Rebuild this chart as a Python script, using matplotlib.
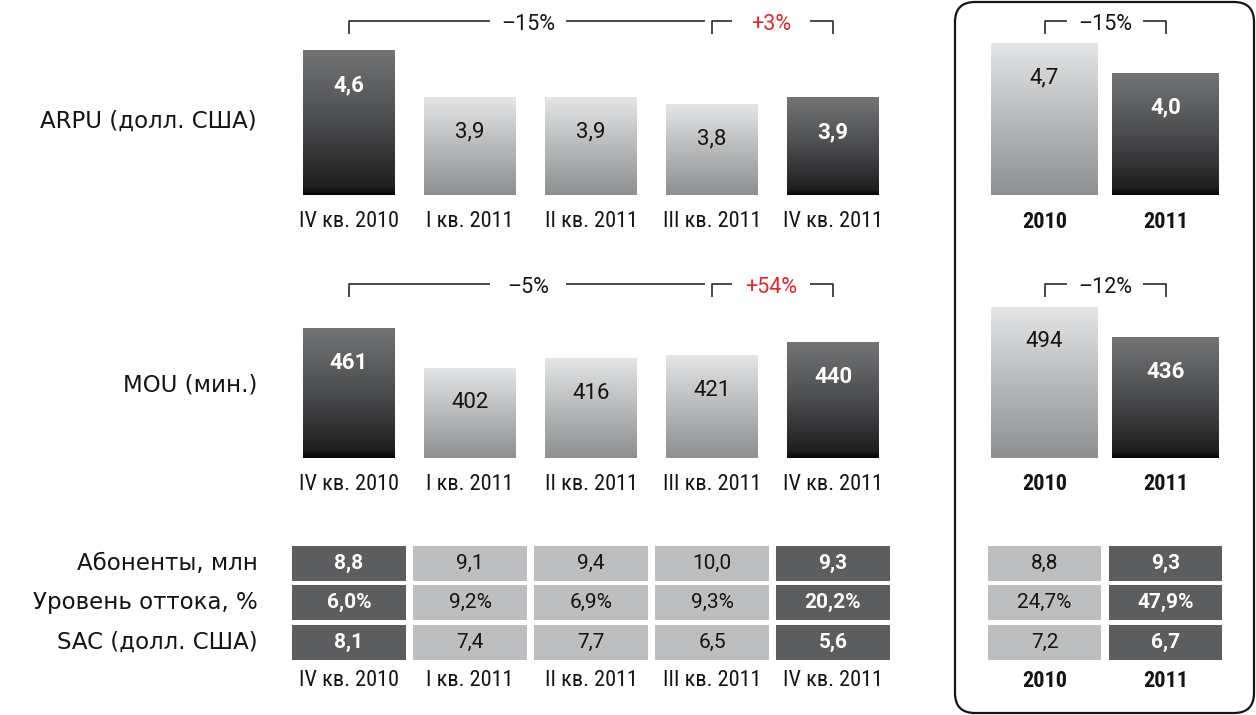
import numpy as np
import matplotlib
matplotlib.use('Agg')
import matplotlib.pyplot as plt
import matplotlib.transforms as mtransforms
from matplotlib import font_manager
from matplotlib.colors import LinearSegmentedColormap
from matplotlib.patches import FancyBboxPatch

# ---- data ----
quarters = ['IV кв. 2010', 'I кв. 2011', 'II кв. 2011', 'III кв. 2011', 'IV кв. 2011']
years = ['2010', '2011']
dark_q = [True, False, False, False, True]
dark_y = [False, True]

arpu_q = [4.6, 3.9, 3.9, 3.8, 3.9]
arpu_y = [4.7, 4.0]
mou_q = [461, 402, 416, 421, 440]
mou_y = [494, 436]

arpu_change = ['–15%', '+3%']
arpu_y_change = '–15%'
mou_change = ['–5%', '+54%']
mou_y_change = '–12%'

row_names = ['Абоненты, млн', 'Уровень оттока, %', 'SAC (долл. США)']
subs_q = [8.8, 9.1, 9.4, 10.0, 9.3]
churn_q = [6.0, 9.2, 6.9, 9.3, 20.2]
sac_q = [8.1, 7.4, 7.7, 6.5, 5.6]
subs_y = [8.8, 9.3]
churn_y = [24.7, 47.9]
sac_y = [7.2, 6.7]

# ---- style ----
names = {f.name for f in font_manager.fontManager.ttflist}
if 'Roboto Condensed' in names:
    COND = dict(family='Roboto Condensed')
elif 'Liberation Sans Narrow' in names:
    COND = dict(family='Liberation Sans Narrow')
else:
    COND = dict(family='DejaVu Sans', stretch='condensed')
NUM = dict(family='Roboto')
MAIN = dict(family='DejaVu Sans')

TXT = '#141414'
RED = '#e3262b'
CELL_DARK = '#5b5d5f'
CELL_LIGHT = '#bdbec0'
dark_cmap = LinearSegmentedColormap.from_list(
    'dk', [(0, '#050505'), (0.06, '#1f1f20'), (0.5, '#4b4c4e'), (1, '#727476')])
light_cmap = LinearSegmentedColormap.from_list(
    'lt', [(0, '#8d8f91'), (0.5, '#b8b9bb'), (1, '#e4e5e6')])
grad = np.linspace(0, 1, 256).reshape(-1, 1)

W, H = 1256, 715


def box(l, t, r, b):
    return [l / W, 1 - b / H, (r - l) / W, (b - t) / H]


def fmt(v, nd=1, pct=False):
    s = f'{v:.{nd}f}'.replace('.', ',')
    return s + '%' if pct else s


fig = plt.figure(figsize=(W / 100, H / 100), dpi=100)
fig.patch.set_facecolor('white')


def bar_chart(rect, vals, dark, labels, floor, ppu, width, bold_cats=False):
    ax = fig.add_axes(rect)
    ax.axis('off')
    h_px = rect[3] * H
    n = len(vals)
    ylim = (floor, floor + h_px / ppu)
    bars = ax.bar(range(n), vals, width=width, color='none', linewidth=0)
    for i, (b, d) in enumerate(zip(bars, dark)):
        x0 = b.get_x()
        ax.imshow(grad, extent=(x0, x0 + b.get_width(), floor, b.get_height()),
                  cmap=dark_cmap if d else light_cmap, origin='lower',
                  aspect='auto', zorder=2)
        lbl = fmt(vals[i]) if isinstance(vals[i], float) else str(vals[i])
        ax.annotate(lbl, xy=(i, vals[i]), xytext=(0, -34), textcoords='offset pixels',
                    ha='center', va='center', fontsize=16, zorder=3,
                    color='white' if d else TXT, weight='bold' if d else 'normal', **NUM)
    for i, c in enumerate(labels):
        ax.annotate(c, xy=(i, 0), xycoords=('data', 'axes fraction'), xytext=(0, -26),
                    textcoords='offset pixels', ha='center', va='center', fontsize=16,
                    color=TXT, weight='bold' if bold_cats else 'normal', **COND)
    ax.set_xlim(-0.5, n - 0.5)
    ax.set_ylim(*ylim)
    return ax


def bracket(ax, x0, x1, g0, g1, label, color, right_tick=True):
    tr = mtransforms.blended_transform_factory(ax.transData, ax.transAxes)
    h_px = ax.get_position().height * H
    y = 175 / h_px
    yt = (175 - 13) / h_px
    kw = dict(color='#2a2a2a', lw=1.2, transform=tr, clip_on=False, solid_capstyle='butt')
    ax.plot([x0, x0, g0], [yt, y, y], **kw)
    if right_tick:
        ax.plot([g1, x1, x1], [y, y, yt], **kw)
    else:
        ax.plot([g1, x1], [y, y], **kw)
    ax.annotate(label, xy=((g0 + g1) / 2, y), xycoords=tr, xytext=(0, -4),
                textcoords='offset pixels', ha='center', va='center',
                fontsize=15.5, color=color, **NUM)


def row_label(ax, text, ypx_above):
    ax.annotate(text, xy=(0, 0), xycoords='axes fraction', xytext=(-31.5, ypx_above),
                textcoords='offset pixels', ha='right', va='center', fontsize=16.5,
                color=TXT, **MAIN)


QL, QR = 288.5, 893.5
YL, YR = 984, 1226

# ARPU
ax1 = bar_chart(box(QL, 5, QR, 195.5), arpu_q, dark_q, quarters, 2.45, 67, 0.76)
bracket(ax1, 0, 2.94, 1.165, 1.79, arpu_change[0], TXT, right_tick=False)
bracket(ax1, 3, 4, 3.165, 3.81, arpu_change[1], RED)
row_label(ax1, 'ARPU (долл. США)', 74)
ax2 = bar_chart(box(YL, 5, YR, 195.5), arpu_y, dark_y, years, 1.16, 42.9, 0.884, bold_cats=True)
bracket(ax2, 0, 1, 0.185, 0.815, arpu_y_change, TXT)

# MOU
ax3 = bar_chart(box(QL, 268, QR, 458.5), mou_q, dark_q, quarters, 267, 0.665, 0.76)
bracket(ax3, 0, 2.94, 1.165, 1.79, mou_change[0], TXT, right_tick=False)
bracket(ax3, 3, 4, 3.165, 3.81, mou_change[1], RED)
row_label(ax3, 'MOU (мин.)', 73.5)
ax4 = bar_chart(box(YL, 268, YR, 458.5), mou_y, dark_y, years, 202, 0.517, 0.884, bold_cats=True)
bracket(ax4, 0, 1, 0.185, 0.815, mou_y_change, TXT)


# table
def table(rect, rows, dark, labels, bold_cats=False, names_=None):
    ax = fig.add_axes(rect)
    ax.axis('off')
    n = len(labels)
    for r, (vals, pct) in enumerate(rows):
        ax.bar(range(n), [0.886] * n, bottom=r - 0.443, width=0.942, linewidth=0,
               color=[CELL_DARK if d else CELL_LIGHT for d in dark])
        for j, v in enumerate(vals):
            ax.text(j, r, fmt(v, pct=pct), ha='center', va='center', fontsize=15,
                    color='white' if dark[j] else TXT,
                    weight='bold' if dark[j] else 'normal', **NUM)
        if names_ is not None:
            tr = mtransforms.blended_transform_factory(ax.transAxes, ax.transData)
            ax.annotate(names_[r], xy=(0, r), xycoords=tr, xytext=(-30.5, 0),
                        textcoords='offset pixels', ha='right', va='center',
                        fontsize=16.5, color=TXT, **MAIN)
    for i, c in enumerate(labels):
        ax.annotate(c, xy=(i, 0), xycoords=('data', 'axes fraction'), xytext=(0, -19),
                    textcoords='offset pixels', ha='center', va='center', fontsize=16,
                    color=TXT, weight='bold' if bold_cats else 'normal', **COND)
    ax.set_xlim(-0.5, n - 0.5)
    ax.set_ylim(2.5, -0.5)
    return ax


table(box(QL, 543.5, QR, 662), [(subs_q, False), (churn_q, True), (sac_q, False)],
      dark_q, quarters, names_=row_names)
table(box(YL, 543.5, YR, 662), [(subs_y, False), (churn_y, True), (sac_y, False)],
      dark_y, years, bold_cats=True)

# rounded frame around annual block
frame = FancyBboxPatch((9.55, 0.02), 2.99, 7.11, boxstyle='round,pad=0,rounding_size=0.2',
                       transform=fig.dpi_scale_trans, fill=False, lw=1.6, ec=TXT)
fig.add_artist(frame)

fig.savefig('out.png', dpi=100)
